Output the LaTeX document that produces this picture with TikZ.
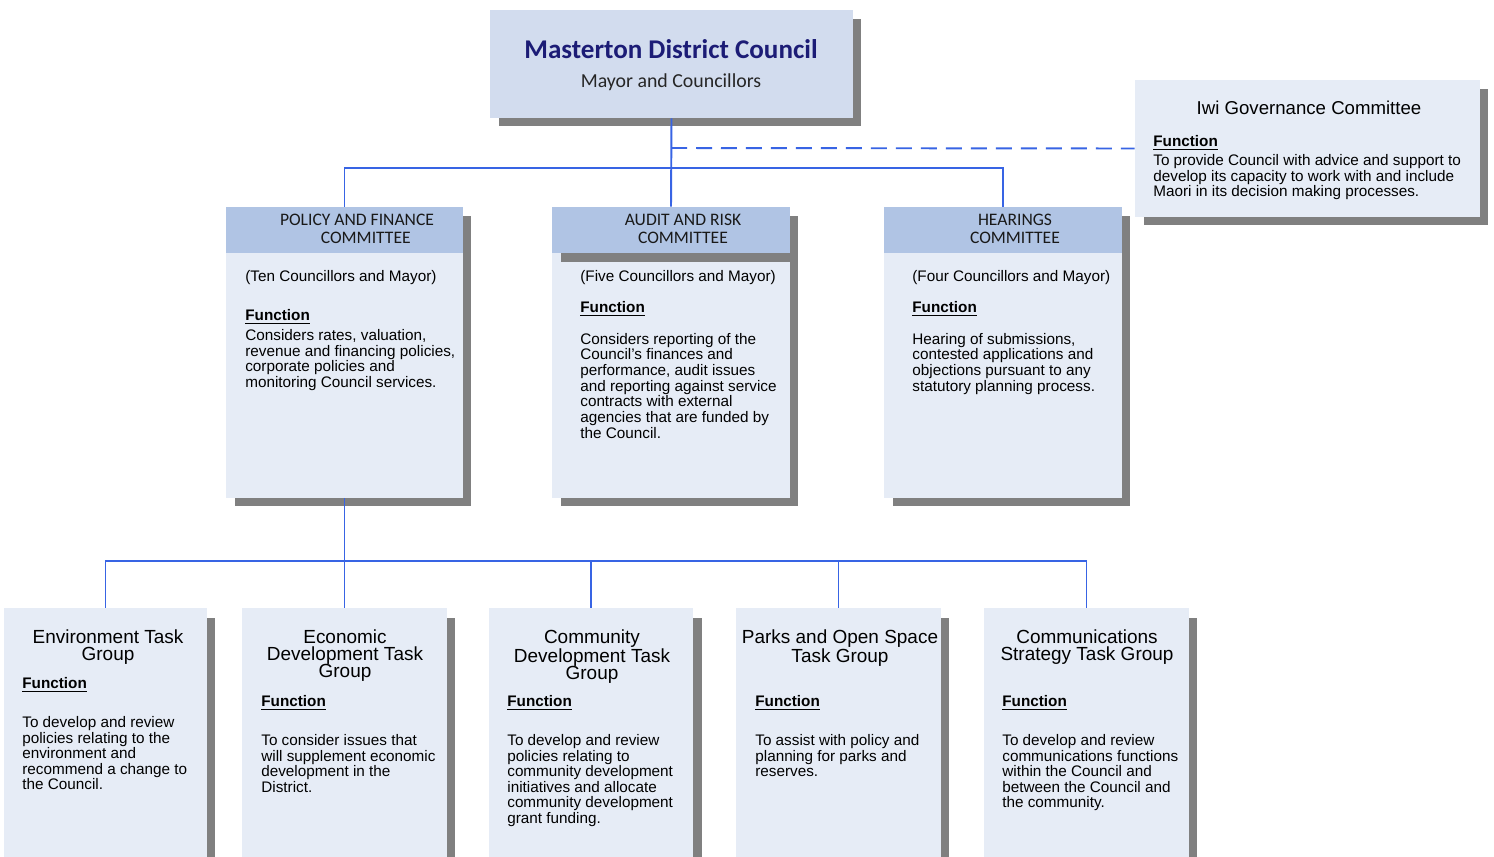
\documentclass[tikz,border=0pt]{standalone}
\usepackage{fontspec}
\setmainfont{Liberation Sans}
\newfontfamily\calibri{Carlito}
\usetikzlibrary{shadows}

\definecolor{linkblue}{RGB}{56,100,228}
\definecolor{navytitle}{RGB}{28,28,118}
\definecolor{topfill}{RGB}{210,220,238}
\definecolor{headfill}{RGB}{176,196,228}
\definecolor{bodyfill}{RGB}{230,236,246}
\definecolor{shade}{RGB}{128,128,128}

\newcommand{\fnhead}{\underline{\textbf{Function}}}

\begin{document}
\begin{tikzpicture}[
    x=0.02cm, y=-0.02cm,
    card/.style={rectangle, fill=bodyfill, inner sep=0pt,
        drop shadow={shadow xshift=0.17cm, shadow yshift=-0.17cm, fill=shade, opacity=1}},
    taskcard/.style={rectangle, fill=bodyfill, inner sep=0pt, minimum width=4.1cm, minimum height=5.24cm,
        drop shadow={shadow xshift=0.17cm, shadow yshift=-0.2cm, fill=shade, opacity=1}},
    head/.style={rectangle, fill=headfill, inner sep=0pt, minimum width=4.76cm, minimum height=0.92cm},
    headtext/.style={inner sep=0pt, align=center, text=black!90, font=\calibri\fontsize{10}{10.2}\selectfont},
    body/.style={anchor=north west, inner sep=0pt, align=left, font=\fontsize{8.7}{8.9}\selectfont},
    grouptitle/.style={anchor=north, inner sep=0pt, align=center, font=\fontsize{10.8}{9.8}\selectfont},
    link/.style={draw=linkblue, line width=1.1pt}
]
\useasboundingbox (0,0) rectangle (1494,856);
\fill[white] (0,0) rectangle (1494,856);

% council at the top
\node[card, fill=topfill, minimum width=7.26cm, minimum height=2.16cm] (mdc) at (671.5,64) {};
\node[inner sep=0pt, text=navytitle, font=\calibri\bfseries\fontsize{15.4}{17}\selectfont] (mdc-title) at (671,49) {Masterton District Council};
\node[inner sep=0pt, text=black!85, font=\calibri\fontsize{11.3}{13}\selectfont] (mdc-sub) at (671,82) {Mayor and Councillors};

% iwi committee on the side
\node[card, minimum width=6.9cm, minimum height=2.74cm] (iwi) at (1307.5,148.5) {};
\node[inner sep=0pt, font=\fontsize{10.6}{12}\selectfont] (iwi-title) at (1309,108) {Iwi Governance Committee};
\node[body] (iwi-text) at (1153,135) {\fnhead\\[2pt]
    To provide Council with advice and support to\\
    develop its capacity to work with and include\\
    Maori in its decision making processes.};

% committees
\node[card, minimum width=4.74cm, minimum height=5.82cm] (pf) at (344.5,352.5) {};
\node[head] (pf-head) at (344.5,230) {};
\node[headtext] (pf-name) at (357,229) {POLICY AND FINANCE\\ \hspace*{10pt}COMMITTEE};
\node[body] (pf-text) at (245,270) {(Ten Councillors and Mayor)\\[13.3pt]
    \fnhead\\[2.5pt]
    Considers rates, valuation,\\
    revenue and financing policies,\\
    corporate policies and\\
    monitoring Council services.};

\node[card, minimum width=4.76cm, minimum height=5.82cm] (ar) at (671,352.5) {};
\node[head, drop shadow={shadow xshift=0.17cm, shadow yshift=-0.17cm, fill=shade, opacity=1}] (ar-head) at (671,230) {};
\node[headtext] (ar-name) at (683,229) {AUDIT AND RISK\\ COMMITTEE};
\node[body] (ar-text) at (580,270) {(Five Councillors and Mayor)\\[8.7pt]
    \fnhead\\[9.3pt]
    Considers reporting of the\\
    Council’s finances and\\
    performance, audit issues\\
    and reporting against service\\
    contracts with external\\
    agencies that are funded by\\
    the Council.};

\node[card, minimum width=4.76cm, minimum height=5.82cm] (hr) at (1003,352.5) {};
\node[head] (hr-head) at (1003,230) {};
\node[headtext] (hr-name) at (1015,229) {HEARINGS\\ COMMITTEE};
\node[body] (hr-text) at (912,270) {(Four Councillors and Mayor)\\[8.7pt]
    \fnhead\\[9.3pt]
    Hearing of submissions,\\
    contested applications and\\
    objections pursuant to any\\
    statutory planning process.};

% task groups under policy and finance
\node[taskcard, minimum width=4.06cm] (env) at (105.5,739) {};
\node[grouptitle] (env-title) at (108,629) {Environment Task\\ Group};
\node[body] (env-text) at (22,677) {\fnhead\\[13.3pt]
    To develop and review\\
    policies relating to the\\
    environment and\\
    recommend a change to\\
    the Council.};

\node[taskcard] (econ) at (344.5,739) {};
\node[grouptitle] (econ-title) at (345,629) {Economic\\ Development Task\\ Group};
\node[body] (econ-text) at (261,695) {\fnhead\\[13.3pt]
    To consider issues that\\
    will supplement economic\\
    development in the\\
    District.};

\node[taskcard] (cd) at (591,739) {};
\node[grouptitle] (cd-title) at (592,629) {Community\\ Development Task\\ Group};
\node[body] (cd-text) at (507,695) {\fnhead\\[13.3pt]
    To develop and review\\
    policies relating to\\
    community development\\
    initiatives and allocate\\
    community development\\
    grant funding.};

\node[taskcard] (parks) at (838.5,739) {};
\node[grouptitle] (parks-title) at (840,629) {Parks and Open Space\\ Task Group};
\node[body] (parks-text) at (755,695) {\fnhead\\[13.3pt]
    To assist with policy and\\
    planning for parks and\\
    reserves.};

\node[taskcard] (comms) at (1086.5,739) {};
\node[grouptitle] (comms-title) at (1087,629) {Communications\\ Strategy Task Group};
\node[body] (comms-text) at (1002,695) {\fnhead\\[13.3pt]
    To develop and review\\
    communications functions\\
    within the Council and\\
    between the Council and\\
    the community.};

% connectors
\coordinate (tap) at (671,148);
\coordinate (bus) at (671,168);
\coordinate (taskbus) at (344.5,561);

\draw[link] (mdc.south) -- (ar-head.north);
\draw[link] (pf-head.north) |- (bus) -| (hr-head.north);
\draw[link, dash pattern=on 0.32cm off 0.18cm] (tap) -- (iwi.west);
\draw[link] (pf.south) -- (econ.north);
\draw[link] (env.north) |- (taskbus) -| (comms.north);
\draw[link] (cd.north) -- (cd.north |- taskbus);
\draw[link] (parks.north) -- (parks.north |- taskbus);

\end{tikzpicture}
\end{document}
